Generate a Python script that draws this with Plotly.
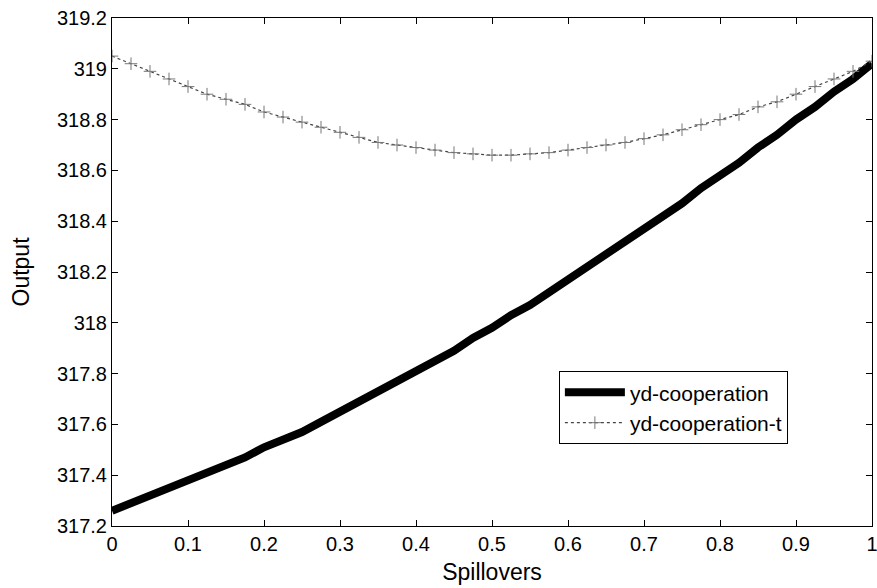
import plotly.graph_objects as go

spillovers = [0, .025, .05, .075, .1, .125, .15, .175, .2, .225, .25, .275, .3, .325, .35, .375, .4,
              .425, .45, .475, .5, .525, .55, .575, .6, .625, .65, .675, .7, .725, .75, .775, .8,
              .825, .85, .875, .9, .925, .95, .975, 1]

yd_cooperation = [317.26, 317.29, 317.32, 317.35, 317.38, 317.41, 317.44, 317.47, 317.51, 317.54,
                  317.57, 317.61, 317.65, 317.69, 317.73, 317.77, 317.81, 317.85, 317.89, 317.94,
                  317.98, 318.03, 318.07, 318.12, 318.17, 318.22, 318.27, 318.32, 318.37, 318.42,
                  318.47, 318.53, 318.58, 318.63, 318.69, 318.74, 318.80, 318.85, 318.91, 318.96,
                  319.02]

yd_cooperation_t = [319.05, 319.02, 318.99, 318.96, 318.93, 318.90, 318.88, 318.86, 318.83, 318.81,
                    318.79, 318.77, 318.75, 318.73, 318.71, 318.70, 318.69, 318.68, 318.67, 318.665,
                    318.66, 318.66, 318.665, 318.67, 318.68, 318.69, 318.70, 318.71, 318.725, 318.74,
                    318.76, 318.78, 318.80, 318.82, 318.85, 318.87, 318.90, 318.93, 318.96, 318.99,
                    319.03]

x_ticks = [0, 0.1, 0.2, 0.3, 0.4, 0.5, 0.6, 0.7, 0.8, 0.9, 1]
x_tick_labels = ["0", "0.1", "0.2", "0.3", "0.4", "0.5", "0.6", "0.7", "0.8", "0.9", "1"]
y_ticks = [317.2, 317.4, 317.6, 317.8, 318, 318.2, 318.4, 318.6, 318.8, 319, 319.2]
y_tick_labels = ["317.2", "317.4", "317.6", "317.8", "318", "318.2", "318.4", "318.6", "318.8", "319", "319.2"]

FONT = "Liberation Sans, Arial, sans-serif"

fig = go.Figure()
fig.add_trace(go.Scatter(
    x=spillovers, y=yd_cooperation, mode="lines", name="yd-cooperation",
    line=dict(color="black", width=8),
))
fig.add_trace(go.Scatter(
    x=spillovers, y=yd_cooperation_t, mode="lines+markers", name="yd-cooperation-t",
    line=dict(color="#444444", width=1.2, dash="dot"),
    marker=dict(symbol="cross-thin", size=9, line=dict(color="#777777", width=1)),
))

axis_common = dict(
    showgrid=False, zeroline=False, showline=True, linecolor="black", linewidth=1,
    mirror="ticks", ticks="inside", ticklen=6, tickcolor="black",
    tickfont=dict(family=FONT, size=20, color="black"),
    automargin=False, ticklabeloverflow="allow",
)

fig.update_layout(
    width=877, height=588,
    margin=dict(l=112, r=5, t=18, b=62),
    paper_bgcolor="white", plot_bgcolor="white",
    font=dict(family=FONT, color="black"),
    showlegend=True,
    legend=dict(
        x=0.588, y=0.161, xanchor="left", yanchor="bottom",
        bgcolor="white", bordercolor="black", borderwidth=1,
        font=dict(family=FONT, size=21, color="black"),
        tracegroupgap=0, itemwidth=60,
    ),
    xaxis=dict(
        range=[0, 1], tickvals=x_ticks, ticktext=x_tick_labels,
        title=dict(text="Spillovers", font=dict(family=FONT, size=23, color="black"), standoff=9),
        **axis_common,
    ),
    yaxis=dict(
        range=[317.2, 319.2], tickvals=y_ticks, ticktext=y_tick_labels,
        title=dict(text="Output", font=dict(family=FONT, size=23, color="black"), standoff=20),
        **axis_common,
    ),
)

fig.write_html("out.html")
